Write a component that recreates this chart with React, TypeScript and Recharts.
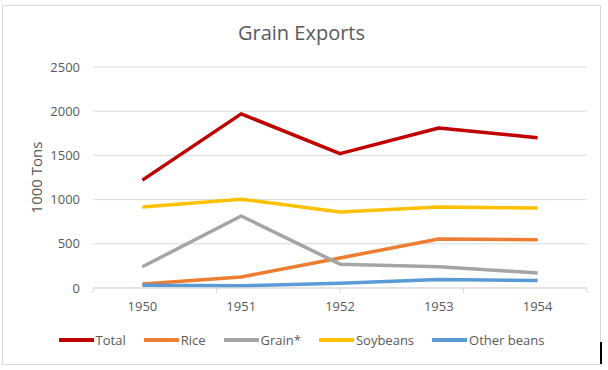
import React from 'react';
import { LineChart, Line, XAxis, YAxis, CartesianGrid, Legend } from 'recharts';

const years = ['1950', '1951', '1952', '1953', '1954'];
const total = [1220, 1970, 1520, 1810, 1700];
const rice = [45, 125, 340, 555, 545];
const grain = [240, 815, 270, 240, 170];
const soybeans = [915, 1005, 860, 915, 905];
const otherBeans = [30, 25, 55, 95, 85];
const yTicks = [0, 500, 1000, 1500, 2000, 2500];
const boundaryTicks = [0, 1, 2, 3, 4, 5];

const series = [
  { key: 'Total', values: total, color: '#C00000' },
  { key: 'Rice', values: rice, color: '#ED7D31' },
  { key: 'Grain*', values: grain, color: '#A5A5A5' },
  { key: 'Soybeans', values: soybeans, color: '#FFC000' },
  { key: 'Other beans', values: otherBeans, color: '#5B9BD5' },
];

const data = years.map((year, i) => {
  const row: any = { year };
  series.forEach((s) => {
    row[s.key] = s.values[i];
  });
  return row;
});

const FONT = '"Open Sans", sans-serif';
const TEXT = '#595959';

const LegendContent = () => (
  <div style={{ display: 'flex', justifyContent: 'center', gap: 18, fontFamily: FONT, fontSize: 13, color: TEXT }}>
    {series.map((s) => (
      <div key={s.key} style={{ display: 'flex', alignItems: 'center' }}>
        <svg width={35} height={6}>
          <line x1={1} y1={3} x2={34} y2={3} stroke={s.color} strokeWidth={4} strokeLinecap="round" />
        </svg>
        <span style={{ marginLeft: 2 }}>{s.key}</span>
      </div>
    ))}
  </div>
);

export default function App() {
  return (
    <div
      style={{
        position: 'absolute',
        left: 2,
        top: 5,
        width: 599,
        height: 360,
        border: '1px solid #d9d9d9',
        boxSizing: 'border-box',
        background: '#fff',
      }}
    >
      <div
        style={{
          position: 'absolute',
          top: 13,
          left: 0,
          width: '100%',
          textAlign: 'center',
          fontFamily: FONT,
          fontSize: 20,
          color: TEXT,
        }}
      >
        Grain Exports
      </div>
      <div style={{ position: 'absolute', right: -2, bottom: 0, width: 2, height: 22, background: '#000' }} />
      <LineChart
        width={597}
        height={358}
        data={data}
        margin={{ top: 61, right: 13, left: 30, bottom: 28 }}
        style={{ fontFamily: FONT }}
      >
        <CartesianGrid horizontal vertical={false} stroke="#d9d9d9" xAxisId="b" />
        <XAxis
          xAxisId="a"
          type="number"
          domain={[0, 5]}
          ticks={boundaryTicks}
          tickFormatter={() => ''}
          height={6}
          axisLine={{ stroke: '#d9d9d9' }}
          tickLine={{ stroke: '#d9d9d9' }}
          tickSize={5}
        />
        <XAxis
          xAxisId="b"
          dataKey="year"
          scale="band"
          axisLine={false}
          tickLine={false}
          height={24}
          tick={{ fill: TEXT, fontSize: 13 }}
          tickSize={0}
          tickMargin={8}
        />
        <YAxis
          width={60}
          domain={[0, 2500]}
          ticks={yTicks}
          axisLine={false}
          tickLine={false}
          tickMargin={7}
          tick={{ fill: TEXT, fontSize: 13 }}
          label={{
            value: '1000 Tons',
            angle: -90,
            position: 'insideLeft',
            offset: 0,
            dx: 4,
            style: { fill: TEXT, fontSize: 15, textAnchor: 'middle' },
          }}
        />
        <Legend content={<LegendContent />} verticalAlign="bottom" wrapperStyle={{ top: 325, left: 0, width: 597 }} />
        {series.map((s) => (
          <Line
            key={s.key}
            xAxisId="b"
            dataKey={s.key}
            stroke={s.color}
            strokeWidth={3.5}
            strokeLinejoin="round"
            dot={false}
            activeDot={false}
            isAnimationActive={false}
          />
        ))}
      </LineChart>
    </div>
  );
}
